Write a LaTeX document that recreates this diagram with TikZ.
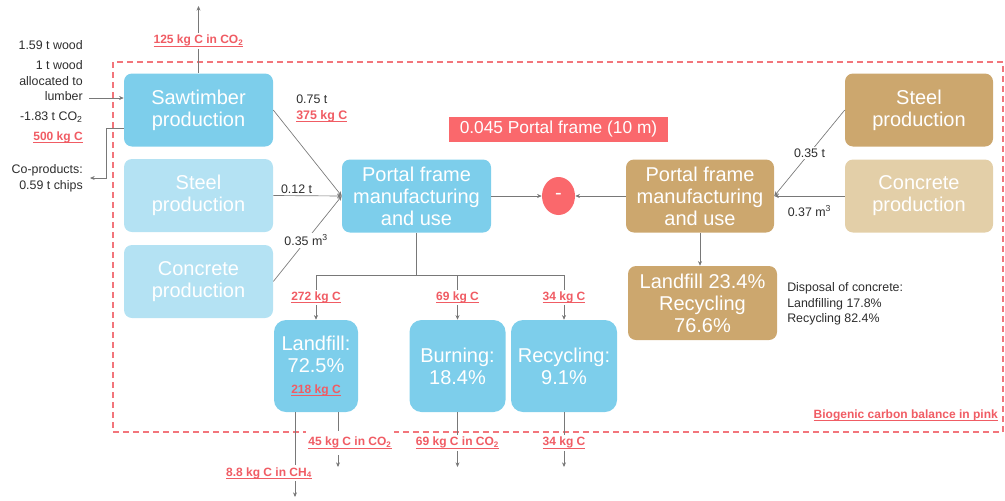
\documentclass[tikz,border=0pt]{standalone}
\usepackage{fontspec}
\setmainfont{Liberation Sans}
\usetikzlibrary{arrows.meta,shapes.geometric}

\definecolor{woodblue}{RGB}{125,206,235}
\definecolor{paleblue}{RGB}{180,226,243}
\definecolor{steeltan}{RGB}{204,167,110}
\definecolor{paletan}{RGB}{227,207,168}
\definecolor{boxred}{RGB}{250,104,108}
\definecolor{biored}{RGB}{240,92,100}
\definecolor{flowgray}{RGB}{120,120,120}
\definecolor{notegray}{RGB}{45,45,45}

\newcommand{\bio}[1]{{\color{biored}\bfseries\setbox0\hbox{#1}%
  \rlap{\rule[-2pt]{\wd0}{0.5pt}}\box0}}

\tikzset{
  procbox/.style={rounded corners=6pt, text=white, align=center, inner sep=0pt,
    font=\fontsize{15}{16.5}\selectfont, minimum width=111.75pt, minimum height=54.75pt},
  flow/.style={draw=flowgray, line width=0.5pt, -{Stealth[length=3.5pt,width=3pt]}},
  link/.style={draw=flowgray, line width=0.5pt},
  lbl/.style={font=\fontsize{9.3}{11.6}\selectfont, text=notegray, inner sep=1.5pt},
  biolbl/.style={font=\fontsize{9}{11}\selectfont, text=biored, inner sep=1.5pt},
}

\begin{document}
\begin{tikzpicture}[x=0.75pt,y=-0.75pt]
    \useasboundingbox (0,0) rectangle (1005,500);

    % Biogenic boundary
    \draw [biored!85, line width=0.8pt, dash pattern=on 4.5pt off 3pt] (113,62) rectangle (1003,432);

    % Timber portal frame
    \node[procbox, fill=woodblue] (saw) at (198.5,110) {Sawtimber\\production};
    \node[procbox, fill=paleblue] (steelL) at (198.5,195.5) {Steel\\production};
    \node[procbox, fill=paleblue] (concL) at (198.5,281.5) {Concrete\\production};
    \node[procbox, fill=woodblue] (frameL) at (416.5,196) {Portal frame\\manufacturing\\and use};

    % Steel portal frame
    \node[procbox, fill=steeltan, minimum width=111pt] (steelR) at (919,110) {Steel\\production};
    \node[procbox, fill=paletan, minimum width=111pt] (concR) at (919,196) {Concrete\\production};
    \node[procbox, fill=steeltan, minimum width=111pt] (frameR) at (700,196) {Portal frame\\manufacturing\\and use};
    \node[procbox, fill=steeltan, minimum height=55.5pt] (dispR) at (702.5,303) {Landfill 23.4\%\\Recycling\\76.6\%};

    % Comparison
    \node[fill=boxred, text=white, font=\fontsize{13}{15}\selectfont, inner sep=0pt,
      minimum width=164.25pt, minimum height=18.75pt] (unit) at (558.5,129) {0.045 Portal frame (10 m)};
    \node[ellipse, fill=boxred, text=white, font=\fontsize{15}{16.5}\selectfont, inner sep=0pt,
      minimum width=24.75pt, minimum height=28.5pt] (minus) at (558.5,196) {-};

    % End of life
    \node[procbox, fill=woodblue, rounded corners=9pt, minimum width=63pt, minimum height=69pt] (landfill) at (316,366)
      {Landfill:\\72.5\%\\[-1pt]{\fontsize{9}{11}\selectfont\bio{218 kg C}}};
    \node[procbox, fill=woodblue, rounded corners=9pt, minimum width=72pt, minimum height=69pt] (burning) at (457.5,366) {Burning:\\18.4\%};
    \node[procbox, fill=woodblue, rounded corners=9pt, minimum width=79.5pt, minimum height=69pt] (recycling) at (564,366) {Recycling:\\9.1\%};

    % Forest side notes
    \node[lbl, anchor=east] (wood) at (85,45) {1.59 t wood};
    \node[lbl, anchor=east, align=right] (alloc) at (85,81) {1 t wood\\allocated to\\lumber};
    \node[lbl, anchor=east] (uptake) at (85,117) {-1.83 t CO\textsubscript{2}};
    \node[biolbl, anchor=east] (stored) at (85,137) {\bio{500 kg C}};
    \node[lbl, anchor=east, align=right] (coprod) at (85,178.5) {Co-products:\\0.59 t chips};

    \coordinate (woodin) at (89,98);
    \draw [flow] (woodin) -- (woodin -| saw.west);
    \coordinate (chips) at (90,178);
    \draw [flow] ([yshift=-13.5pt]saw.west) -| (106,178) -- (chips);
    \coordinate (release) at (198.5,6);
    \draw [flow] (saw.north) -- node[biolbl, fill=white, pos=0.48] {\bio{125 kg C in CO\textsubscript{2}}} (release);

    % Inputs to timber frame
    \draw [flow] (saw.east) -- (frameL.west);
    \node[lbl, anchor=west, align=left] (sawflow) at (294,108.5) {0.75 t\\\bio{375 kg C}};
    \draw [flow] (steelL.east) -- node[lbl, above, pos=0.34] {0.12 t} (frameL.west);
    \draw [flow] (concL.east) -- node[lbl, fill=white, pos=0.48] {0.35 m\textsuperscript{3}} (frameL.west);

    % Difference
    \draw [flow] (frameL.east) -- (minus.west);
    \draw [flow] (frameR.west) -- (minus.east);

    % Inputs to steel frame
    \draw [flow] (steelR.west) -- node[lbl, fill=white, pos=0.5] {0.35 t} (frameR.east);
    \draw [flow] (concR.west) -- node[lbl, below=5pt, pos=0.5] {0.37 m\textsuperscript{3}} (frameR.east);
    \draw [flow] (frameR.south) -- (frameR.south |- dispR.north);
    \node[lbl, anchor=west, align=left] (concnote) at (785,304) {Disposal of concrete:\\Landfilling 17.8\%\\Recycling 82.4\%};

    % Split to end of life
    \coordinate (split) at (416.5,275);
    \draw [link] (frameL.south) -- (split);
    \draw [link] (landfill.north |- split) -- (recycling.north |- split);
    \draw [flow] (landfill.north |- split) -- node[biolbl, fill=white] {\bio{272 kg C}} (landfill.north);
    \draw [flow] (burning.north |- split) -- node[biolbl, fill=white] {\bio{69 kg C}} (burning.north);
    \draw [flow] (recycling.north |- split) -- node[biolbl, fill=white] {\bio{34 kg C}} (recycling.north);

    % Releases
    \coordinate (ch4) at (295,497);
    \coordinate (co2land) at (338,467);
    \coordinate (co2burn) at (457.5,467);
    \coordinate (recout) at (564,467);
    \draw [flow] (landfill.south -| ch4) -- (ch4);
    \node[biolbl, fill=white] (ch4lbl) at (269,473) {\bio{8.8 kg C in CH\textsubscript{4}}};
    \draw [flow] (landfill.south -| co2land) -- node[biolbl, fill=white, inner ysep=5pt, xshift=9pt, pos=0.56] {\bio{45 kg C in CO\textsubscript{2}}} (co2land);
    \draw [flow] (burning.south -| co2burn) -- node[biolbl, fill=white, pos=0.56] {\bio{69 kg C in CO\textsubscript{2}}} (co2burn);
    \draw [flow] (recycling.south -| recout) -- node[biolbl, fill=white, pos=0.56] {\bio{34 kg C}} (recout);

    \node[biolbl, anchor=east] (legend) at (1000,415) {\bio{Biogenic carbon balance in pink}};
\end{tikzpicture}
\end{document}
